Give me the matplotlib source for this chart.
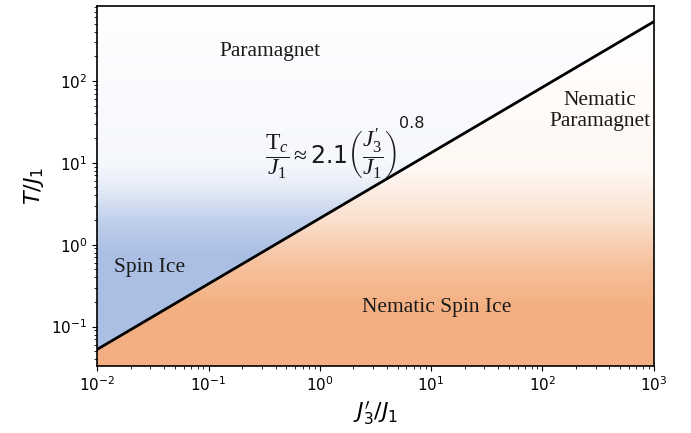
import numpy as np
import matplotlib
matplotlib.use("Agg")
import matplotlib.pyplot as plt

# phase boundary  Tc/J1 = 2.1 (J3'/J1)^0.8
coef = 2.1
expo = 0.8
x_range = [1e-2, 1e3]
y_range = [0.033, 830]

labels = ["Paramagnet", "Spin Ice", "Nematic\nParamagnet", "Nematic Spin Ice"]
label_x = [0.356, 0.0297, 329, 11.3]
label_y = [226, 0.525, 43, 0.17]

blue = np.array([171, 191, 228]) / 255
orange = np.array([243, 175, 129]) / 255

plt.rcParams['mathtext.rm'] = 'Liberation Serif'
plt.rcParams['mathtext.it'] = 'Liberation Serif:italic'
plt.rcParams['mathtext.sf'] = 'DejaVu Sans'

fig = plt.figure(figsize=(6.91, 4.33), dpi=100)
ax = fig.add_axes([0.1408, 0.1547, 0.8052, 0.8323])
ax.set_xscale('log')
ax.set_yscale('log')

# background shading
xe = np.logspace(np.log10(x_range[0]), np.log10(x_range[1]), 700)
ye = np.logspace(np.log10(y_range[0]), np.log10(y_range[1]), 450)
xc = np.sqrt(xe[1:] * xe[:-1])
yc = np.sqrt(ye[1:] * ye[:-1])
X, Y = np.meshgrid(xc, yc)
lt = np.log10(Y)
a_blue = np.interp(lt, [-0.1, 0.3, 0.7, 1.0, 2.9], [1.0, 0.75, 0.3, 0.12, 0.02])
a_or = np.interp(lt, [-0.75, -0.2, 0.3, 0.9, 2.0, 2.9], [1.0, 0.75, 0.4, 0.1, 0.04, 0.01])
above = Y > coef * X ** expo
a = np.where(above, a_blue, a_or)[..., None]
col = np.where(above[..., None], blue, orange)
rgb = 1 - a * (1 - col)
ax.pcolormesh(xe, ye, rgb, shading='flat', rasterized=True)

xs = np.logspace(-2, 3, 200)
ax.plot(xs, coef * xs ** expo, color='black', lw=2)

ax.set_xlim(x_range)
ax.set_ylim(y_range)

for s, lx, ly in zip(labels, label_x, label_y):
    ax.text(lx, ly, s, ha='center', va='center', fontsize=15.5,
            family='Liberation Serif', color='#1a1a1a', linespacing=1.1)

formula = ax.text(0.321, 13.0,
                  r"$\dfrac{\mathrm{T}_c}{J_1}\approx\mathsf{2.1}\left(\dfrac{J_3'}{J_1}\right)$",
                  ha='left', va='center', fontsize=17, color='#1a1a1a',
                  math_fontfamily='custom')
ax.annotate("0.8", xy=(1.0, 0.92), xycoords=formula, xytext=(1, 0),
            textcoords='offset points', ha='left', va='bottom',
            fontsize=11.5, color='#1a1a1a', family='DejaVu Sans')

ax.set_xlabel(r"$J_3'/J_1$", fontsize=16, math_fontfamily='dejavusans')
ax.set_ylabel(r"$T/J_1$", fontsize=16, math_fontfamily='dejavusans')
ax.tick_params(labelsize=11)
for sp in ax.spines.values():
    sp.set_linewidth(1.2)

fig.savefig("out.png", dpi=100)
